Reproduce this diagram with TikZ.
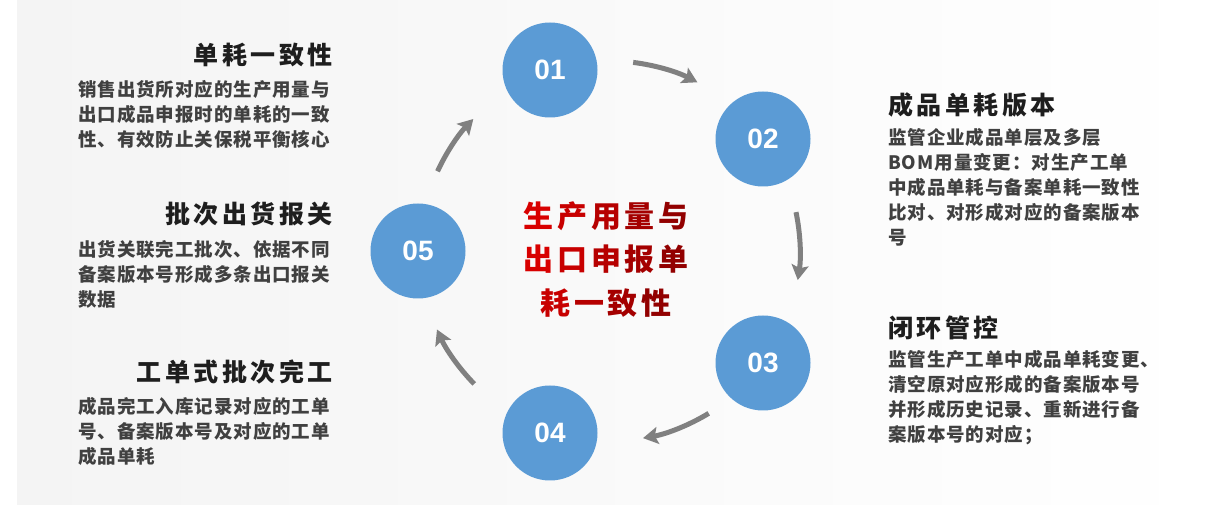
\documentclass[tikz,border=0pt]{standalone}
\usepackage{fontspec}
\usetikzlibrary{arrows.meta}
\newfontfamily\cjkbody[LetterSpace=5]{Noto Sans CJK SC}
\newfontfamily\cjkttl[LetterSpace=14]{Noto Sans CJK SC}
\newfontfamily\cjkmid{Noto Sans CJK SC}
\newfontfamily\numfont{Liberation Sans}
\definecolor{circ}{HTML}{5B9BD5}
\definecolor{arrg}{HTML}{808080}
\definecolor{ttlc}{HTML}{1E1E1E}
\definecolor{bodyc}{HTML}{404040}
\definecolor{bgl}{HTML}{F4F4F4}
\definecolor{ra}{HTML}{D80000}
\definecolor{rb}{HTML}{C80000}
\definecolor{rc}{HTML}{B60000}
\definecolor{rd}{HTML}{A40000}
\definecolor{re}{HTML}{920000}
\newcommand\midch[2]{\textcolor{#1}{#2}}
\newcommand\gap{\kern3.8pt}
\tikzset{
  numcirc/.style={circle,fill=circ,minimum size=95pt,inner sep=0pt,text=white,font=\numfont\bfseries\fontsize{28}{28}\selectfont},
  ttl/.style={inner sep=0pt,text=ttlc,font=\cjkttl\bfseries\fontsize{25}{30}\selectfont},
  body/.style={inner sep=0pt,align=left,text=bodyc,font=\cjkbody\bfseries\fontsize{18.5}{25}\selectfont},
  mid/.style={inner sep=0pt,align=center,font=\cjkmid\bfseries\fontsize{30}{43.5}\selectfont},
  cyc/.style={draw=arrg,line width=5pt,-{Stealth[length=15pt,width=17pt,inset=3pt]}}
}
\begin{document}
\begin{tikzpicture}[x=1pt,y=1pt]
\useasboundingbox (0,0) rectangle (1225,505);
\fill[white] (0,0) rectangle (1225,505);
\shade[left color=bgl,right color=white] (17,0) rectangle (1213,505);
\coordinate (c) at (610,254);
% circles
\node[numcirc] (n1) at (550,435) {01};
\node[numcirc] (n2) at (763,366) {02};
\node[numcirc] (n3) at (763,142) {03};
\node[numcirc] (n4) at (550,72) {04};
\node[numcirc] (n5) at (418,254) {05};
% cycle arrows
\draw[cyc] (c) ++(83:190) arc[start angle=83,end angle=62.6,radius=190];
\draw[cyc] (c) ++(11.8:190) arc[start angle=11.8,end angle=-8.8,radius=190];
\draw[cyc] (c) ++(-58.7:190) arc[start angle=-58.7,end angle=-80,radius=190];
\draw[cyc] (c) ++(224.4:190) arc[start angle=224.4,end angle=204.4,radius=190];
\draw[cyc] (c) ++(155.2:190) arc[start angle=155.2,end angle=136,radius=190];
% centre
\node[mid,anchor=north] (centre) at (606,304) {%
\midch{ra}{生}\gap\midch{rb}{产}\gap\midch{rc}{用}\gap\midch{rd}{量}\gap\midch{re}{与}\\
\midch{ra}{出}\gap\midch{rb}{口}\gap\midch{rc}{申}\gap\midch{rd}{报}\gap\midch{re}{单}\\
\midch{rb}{耗}\gap\midch{rc}{一}\gap\midch{rd}{致}\gap\midch{re}{性}};
% left texts
\node[ttl,anchor=north east] (t1) at (333,461.7) {单耗一致性};
\node[body,anchor=north west] (b1) at (78,425) {销售出货所对应的生产用量与\\出口成品申报时的单耗的一致\\性、有效防止关保税平衡核心};
\node[ttl,anchor=north east] (t5) at (333,303.3) {批次出货报关};
\node[body,anchor=north west] (b5) at (78,265) {出货关联完工批次、依据不同\\备案版本号形成多条出口报关\\数据};
\node[ttl,anchor=north east] (t4) at (333,145) {工单式批次完工};
\node[body,anchor=north west] (b4) at (78,107.7) {成品完工入库记录对应的工单\\号、备案版本号及对应的工单\\成品单耗};
% right texts
\node[ttl,anchor=north west] (t2) at (888,412.3) {成品单耗版本};
\node[body,anchor=north west] (b2) at (888,376.7) {监管企业成品单层及多层\\BOM用量变更：对生产工单\\中成品单耗与备案单耗一致性\\比对、对形成对应的备案版本\\号};
\node[ttl,anchor=north west] (t3) at (888,189) {闭环管控};
\node[body,anchor=north west] (b3) at (888,155) {监管生产工单中成品单耗变更、\\清空原对应形成的备案版本号\\并形成历史记录、重新进行备\\案版本号的对应；};
\end{tikzpicture}
\end{document}
